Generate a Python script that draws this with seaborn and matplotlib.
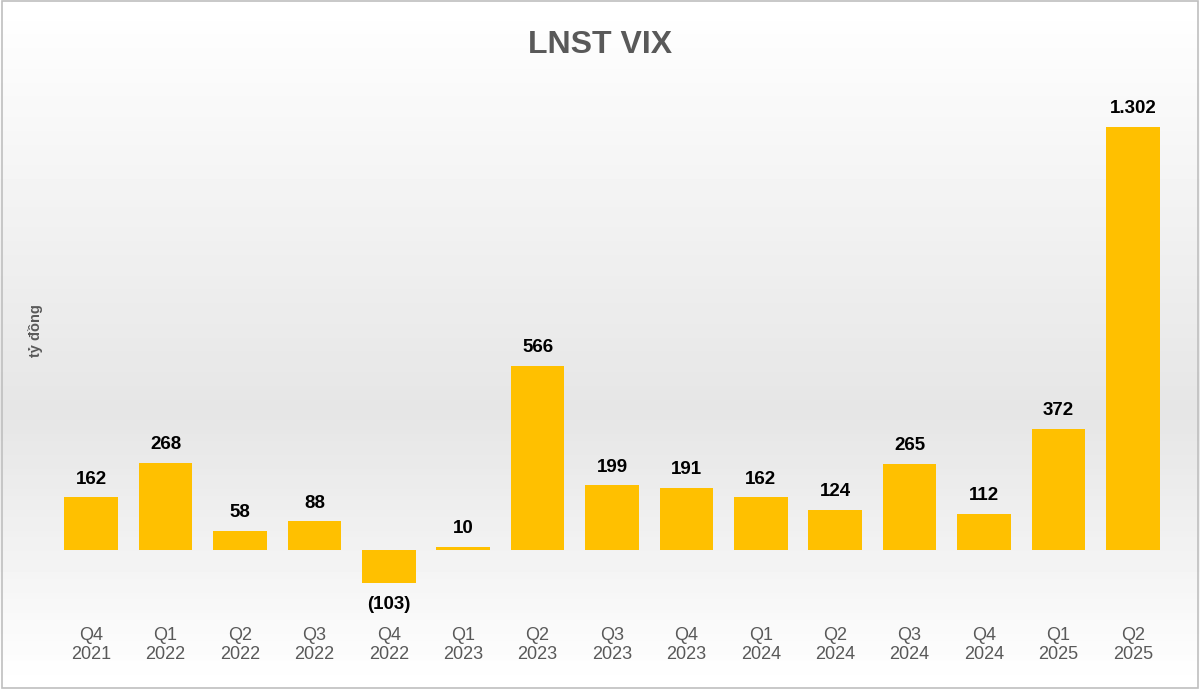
import numpy as np
import pandas as pd
import matplotlib.pyplot as plt
import seaborn as sns

plt.rcParams['font.family'] = 'Liberation Sans'

quarters = ['Q4\n2021', 'Q1\n2022', 'Q2\n2022', 'Q3\n2022', 'Q4\n2022', 'Q1\n2023', 'Q2\n2023',
            'Q3\n2023', 'Q4\n2023', 'Q1\n2024', 'Q2\n2024', 'Q3\n2024', 'Q4\n2024', 'Q1\n2025', 'Q2\n2025']
profit = [162, 268, 58, 88, -103, 10, 566, 199, 191, 162, 124, 265, 112, 372, 1302]

df = pd.DataFrame({'quarter': quarters, 'profit': profit})


def fmt(v):
    s = f"{abs(v):,}".replace(',', '.')
    return f"({s})" if v < 0 else s


fig = plt.figure(figsize=(12, 6.89), dpi=100)
# light gray gradient background
bg = fig.add_axes([0, 0, 1, 1], zorder=-10)
grad = np.concatenate([np.linspace(1.0, 0.9, 60), np.linspace(0.9, 1.0, 40)])
bg.imshow(np.tile(grad[:, None], (1, 10)), cmap='gray', vmin=0, vmax=1, aspect='auto', extent=[0, 1, 0, 1])
bg.axis('off')
fig.patches.append(plt.Rectangle((0.002, 0.002), 0.996, 0.996, transform=fig.transFigure,
                                 fill=False, edgecolor='#bfbfbf', linewidth=1.2))

ax = fig.add_axes([0.045, 0.131, 0.93, 0.755])
ax.patch.set_alpha(0)
sns.barplot(data=df, x='quarter', y='profit', color='#FFC000', width=0.72, saturation=1, ax=ax)
ax.set_ylim(-150, 1450)

for i, v in enumerate(profit):
    if v >= 0:
        ax.text(i, v + 30, fmt(v), ha='center', va='bottom', fontsize=13.5, fontweight='bold', color='black')
    else:
        ax.text(i, v - 40, fmt(v), ha='center', va='top', fontsize=13.5, fontweight='bold', color='black')

ax.set_xlabel('')
ax.set_ylabel('')
ax.set_yticks([])
ax.tick_params(axis='x', length=0, pad=20, labelsize=13, labelcolor='#595959')
for s in ax.spines.values():
    s.set_visible(False)

fig.text(0.5, 0.935, 'LNST VIX', ha='center', va='center', fontsize=23, fontweight='bold', color='#595959')
fig.text(0.03, 0.52, 'tỷ đồng', rotation=90, ha='center', va='center', fontsize=10.5, fontweight='bold', color='#595959')

fig.savefig('out.png', dpi=100)
